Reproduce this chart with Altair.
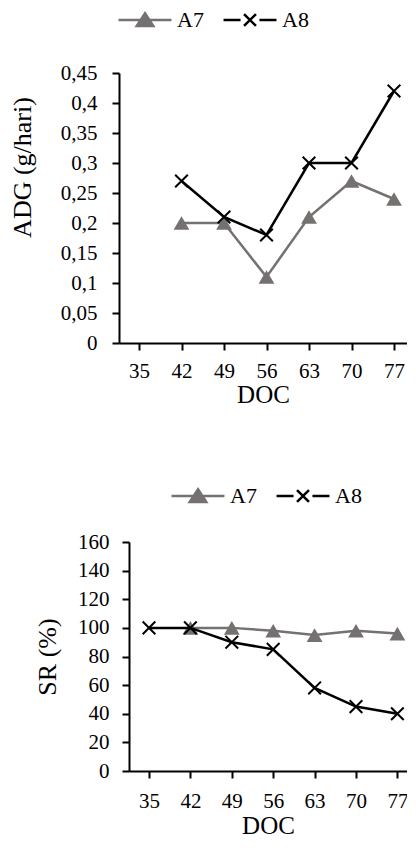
import altair as alt
import pandas as pd

# ---- data ----
doc = [35, 42, 49, 56, 63, 70, 77]
series = ["A7", "A8"]
adg_a7 = [None, 0.20, 0.20, 0.11, 0.21, 0.27, 0.24]
adg_a8 = [None, 0.27, 0.21, 0.18, 0.30, 0.30, 0.42]
sr_a7 = [None, 100, 100, 98, 95, 98, 96]
sr_a8 = [100, 100, 90, 85, 58, 45, 40]
adg_ticks = [0, 0.05, 0.1, 0.15, 0.2, 0.25, 0.3, 0.35, 0.4, 0.45]
sr_ticks = [0, 20, 40, 60, 80, 100, 120, 140, 160]

GRAY = "#767171"
BLACK = "#000000"
FONT = "Liberation Serif"
LFS = 21   # tick labels
XTFS = 25  # x axis titles
YTFS = 26  # y axis titles
GFS = 22   # legend labels

# legend symbols: a line with the marker in the middle (layout box 21px, drawn 53px wide)
A7_SYM = "M-2.52,0H2.52M0,-0.64L0.79,0.57L-0.79,0.57Z"
A8_SYM = "M-2.52,0H-0.9M0.9,0H2.52M-0.57,-0.57L0.57,0.57M-0.57,0.57L0.57,-0.57"
CROSS = "M-1,-1L1,1M-1,1L1,-1"


def long_df(a7, a8):
    rows = []
    for name, vals in (("A7", a7), ("A8", a8)):
        for d, v in zip(doc, vals):
            if v is not None:
                rows.append({"DOC": d, "value": v, "series": name})
    return pd.DataFrame(rows)


def panel(df, ytitle, ydomain, yticks, label_expr, width, height, xdomain, xrange_,
          y_offset, y_label_pad, x_label_pad, legend_x, legend_y, title_x, title_y,
          x_title_y):
    xenc = alt.X(
        "DOC:Q",
        scale=alt.Scale(domain=xdomain, range=xrange_, nice=False, zero=False),
        axis=alt.Axis(title="DOC", values=doc, format="d", labelAngle=0,
                      labelFlush=False, labelPadding=x_label_pad,
                      titleY=x_title_y, titleFontSize=XTFS),
    )
    yaxis = dict(title=ytitle, values=yticks, labelExpr=label_expr,
                 labelPadding=y_label_pad, offset=y_offset, titleX=title_x,
                 titleFontSize=YTFS)
    if title_y is not None:
        yaxis["titleY"] = title_y
    yenc = alt.Y(
        "value:Q",
        scale=alt.Scale(domain=ydomain, nice=False, zero=True),
        axis=alt.Axis(**yaxis),
    )
    legend = alt.Legend(
        orient="none", legendX=legend_x, legendY=legend_y,
        direction="horizontal", title=None,
        symbolSize=441, symbolStrokeWidth=2.5, labelOffset=20,
        columnPadding=14, labelFont=FONT, labelFontSize=GFS, labelColor=BLACK,
        symbolType={"expr": f"datum.value === 'A7' ? '{A7_SYM}' : '{A8_SYM}'"},
        symbolFillColor={"expr": f"datum.value === 'A7' ? '{GRAY}' : 'transparent'"},
    )
    color = alt.Color("series:N", scale=alt.Scale(domain=series, range=[GRAY, BLACK]),
                      legend=legend)
    base = alt.Chart(df).encode(x=xenc, y=yenc)
    l7 = base.transform_filter(alt.datum.series == "A7").mark_line(strokeWidth=2.5).encode(color=color)
    p7 = base.transform_filter(alt.datum.series == "A7").mark_point(
        shape="triangle-up", filled=True, size=250, color=GRAY, opacity=1)
    l8 = base.transform_filter(alt.datum.series == "A8").mark_line(strokeWidth=2.5).encode(color=color)
    p8 = base.transform_filter(alt.datum.series == "A8").mark_point(
        shape=CROSS, filled=False, size=160, strokeWidth=2, color=BLACK, opacity=1)
    return alt.layer(l7, p7, l8, p8).properties(width=width, height=height)


adg_expr = "replace(format(datum.value, '.2~f'), '.', ',')"
sr_expr = "format(datum.value, 'd')"

top = panel(long_df(adg_a7, adg_a8), "ADG (g/hari)", [0, 0.45], adg_ticks, adg_expr,
            288, 270, [31.706, 79.14], [0, 288], 0, 15, 10,
            14, -65, -84, 94, 39)
bottom = panel(long_df(sr_a7, sr_a8), "SR (%)", [0, 160], sr_ticks, sr_expr,
               288, 229, [31.618, 78.625], [10, 288], -10, 13, 12,
               67, -58, -69, None, 42)

chart = alt.vconcat(top, bottom, spacing=77).resolve_scale(
    color="independent", x="independent", y="independent"
).properties(
    padding={"left": 0, "top": 0, "right": -1, "bottom": -3}
).configure_view(stroke=None).configure_axis(
    grid=False, domainColor=BLACK, domainWidth=2, tickColor=BLACK, tickWidth=2,
    tickSize=7, labelFont=FONT, labelFontSize=LFS, labelColor=BLACK,
    titleFont=FONT, titleFontWeight="normal", titleColor=BLACK,
)

chart.save("out.html", embed_options={"renderer": "svg", "actions": False})
